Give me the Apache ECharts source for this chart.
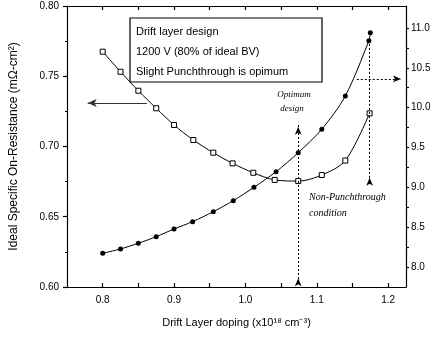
<!DOCTYPE html>
<html><head><meta charset="utf-8">
<script src="https://cdn.jsdelivr.net/npm/echarts@6/dist/echarts.min.js"></script>
<style>html,body{margin:0;padding:0;background:#fff}#c{width:435px;height:339px}</style>
</head><body><div id="c"></div><script>
// open squares: left axis (specific on-resistance)
const dopingSquares = [0.80, 0.825, 0.85, 0.875, 0.90, 0.927, 0.955, 0.982, 1.011, 1.041, 1.074, 1.107, 1.14, 1.174];
const resistance = [0.7675, 0.7532, 0.7397, 0.7272, 0.7153, 0.7046, 0.6956, 0.688, 0.6813, 0.6762, 0.6754, 0.6797, 0.690, 0.7236];
// filled dots: right axis
const dopingDots = [0.80, 0.825, 0.85, 0.875, 0.90, 0.926, 0.955, 0.983, 1.012, 1.043, 1.074, 1.107, 1.14, 1.173, 1.175];
const rightValues = [8.173, 8.227, 8.299, 8.381, 8.478, 8.570, 8.695, 8.833, 9.001, 9.197, 9.435, 9.729, 10.147, 10.84, 10.94];
const xLabels = [0.8, 0.9, 1.0, 1.1, 1.2];
const xTickVals = [0.8, 0.85, 0.9, 0.95, 1.0, 1.05, 1.1, 1.15, 1.2];
const rightLabels = [8.0, 8.5, 9.0, 9.5, 10.0, 10.5, 11.0];
const rightTickVals = [8.0, 8.25, 8.5, 8.75, 9.0, 9.25, 9.5, 9.75, 10.0, 10.25, 10.5, 10.75, 11.0];
const boxLines = ['Drift layer design', '1200 V (80% of ideal BV)', 'Slight Punchthrough is opimum'];

const chart = echarts.init(document.getElementById('c'));
const F = 'Liberation Sans, Arial, sans-serif';
const lineSty = {color: '#000', width: 1.2};
chart.setOption({
  animation: false,
  backgroundColor: '#fff',
  grid: {left: 67, right: 29, top: 6, bottom: 52},
  xAxis: [{
    type: 'value', min: 0.75, max: 1.225, position: 'bottom',
    name: 'Drift Layer doping (x10¹⁸ cm⁻³)', nameLocation: 'middle', nameGap: 30,
    nameTextStyle: {fontFamily: F, fontSize: 11, color: '#000'},
    axisLine: {lineStyle: lineSty},
    axisTick: {inside: true, length: 4, lineStyle: lineSty, customValues: xTickVals},
    axisLabel: {customValues: xLabels, fontFamily: F, fontSize: 10, color: '#000', margin: 8,
      formatter: v => v.toFixed(1)},
    splitLine: {show: false}
  }, {
    type: 'value', min: 0.75, max: 1.225, position: 'top',
    axisLine: {lineStyle: lineSty},
    axisTick: {inside: true, length: 4, lineStyle: lineSty, customValues: xTickVals},
    axisLabel: {show: false},
    splitLine: {show: false}
  }],
  yAxis: [{
    type: 'value', min: 0.6, max: 0.8, interval: 0.05, position: 'left',
    name: 'Ideal Specific On-Resistance (mΩ-cm²)', nameLocation: 'middle', nameGap: 47,
    nameTextStyle: {fontFamily: F, fontSize: 12, color: '#000'},
    axisLine: {show: true, lineStyle: lineSty},
    axisTick: {show: true, length: 4, lineStyle: lineSty},
    minorTick: {show: true, splitNumber: 2, length: 2, lineStyle: {color: '#000'}},
    axisLabel: {fontFamily: F, fontSize: 10, color: '#000', formatter: v => v.toFixed(2)},
    splitLine: {show: false}
  }, {
    type: 'value', min: 7.75, max: 11.275, position: 'right',
    axisLine: {show: true, lineStyle: lineSty},
    axisTick: {show: true, length: 3, lineStyle: lineSty, customValues: rightTickVals},
    axisLabel: {customValues: rightLabels, fontFamily: F, fontSize: 10, color: '#000', margin: 5,
      formatter: v => v.toFixed(1)},
    splitLine: {show: false}
  }],
  series: [{
    type: 'line', xAxisIndex: 0, yAxisIndex: 0, smooth: 0.3,
    data: dopingSquares.map((x, i) => [x, resistance[i]]),
    symbol: 'rect', symbolSize: 5,
    itemStyle: {color: '#fff', borderColor: '#000', borderWidth: 1},
    lineStyle: {color: '#000', width: 1},
    markLine: {
      silent: true, symbol: ['arrow', 'none'], symbolSize: [6, 9],
      lineStyle: {color: '#333', width: 1.2, type: 'solid'}, label: {show: false},
      data: [[{coord: [0.779, 0.731]}, {coord: [0.862, 0.731]}]]
    }
  }, {
    type: 'line', xAxisIndex: 0, yAxisIndex: 1, smooth: 0.3,
    data: dopingDots.map((x, i) => [x, rightValues[i]]),
    symbol: 'circle', symbolSize: 5,
    itemStyle: {color: '#000'},
    lineStyle: {color: '#000', width: 1},
    markLine: {
      silent: true, symbol: ['none', 'none'],
      lineStyle: {color: '#000', width: 1, type: [2, 2]}, label: {show: false},
      data: [
        [{coord: [1.074, 7.8]}, {coord: [1.074, 9.80]}],
        [{coord: [1.174, 10.85]}, {coord: [1.174, 9.08]}],
        [{coord: [1.156, 10.36], symbol: 'none'}, {coord: [1.218, 10.36], symbol: 'arrow', symbolSize: [5, 8]}]
      ]
    },
    markPoint: {
      silent: true, symbol: 'arrow', symbolSize: [5, 8], itemStyle: {color: '#000'}, label: {show: false},
      data: [{coord: [1.074, 7.86]}, {coord: [1.074, 9.76]}, {coord: [1.174, 9.12]}]
    }
  }],
  graphic: [
    {type: 'rect', shape: {x: 130, y: 18, width: 192, height: 64},
     style: {fill: '#fff', stroke: '#000', lineWidth: 1.2}, z: 10},
    ...boxLines.map((t, i) => ({type: 'text', x: 136, y: 32 + i * 20, z: 11,
      style: {text: t, font: '11px ' + F, fill: '#000', verticalAlign: 'middle'}})),
    {type: 'text', x: 294, y: 95, z: 11, style: {text: 'Optimum', font: 'italic 9px Liberation Serif', fill: '#000', align: 'center', verticalAlign: 'middle'}},
    {type: 'text', x: 292, y: 109, z: 11, style: {text: 'design', font: 'italic 9px Liberation Serif', fill: '#000', align: 'center', verticalAlign: 'middle'}},
    {type: 'text', x: 309, y: 197, z: 11, style: {text: 'Non-Punchthrough', font: 'italic 10px Liberation Serif', fill: '#000', verticalAlign: 'middle'}},
    {type: 'text', x: 309, y: 213, z: 11, style: {text: 'condition', font: 'italic 10px Liberation Serif', fill: '#000', verticalAlign: 'middle'}}
  ]
});
</script></body></html>
